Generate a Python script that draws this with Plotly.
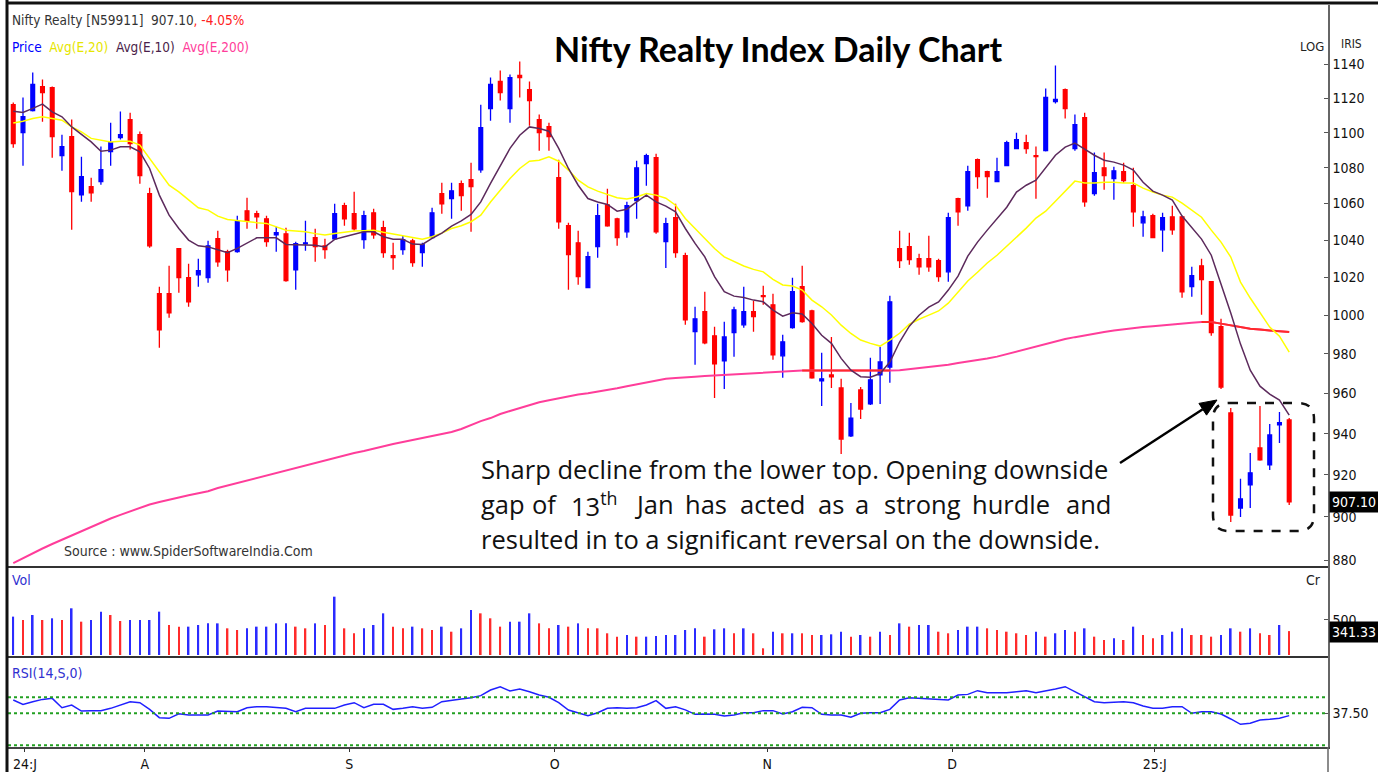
import math
import plotly.graph_objects as go

W, H = 1378, 772

# ---------------- data ----------------
month_labels = ["24:J", "A", "S", "O", "N", "D", "25:J"]
month_pos = [1.2, 13.5, 34.5, 55.6, 77.4, 96.4, 117.2]

opens = [1116.2, 1100.0, 1112.7, 1126.8, 1126.2, 1086.9, 1097.7, 1064.9, 1069.4, 1072.2,
         1089.2, 1097.1, 1107.5, 1098.8, 1065.5, 1011.3, 1011.3, 1035.3, 1019.8, 1021.3,
         1019.8, 1040.7, 1033.7, 1033.7, 1056.0, 1054.4, 1051.6, 1042.9, 1043.4, 1024.0,
         1038.0, 1041.3, 1036.9, 1040.7, 1058.8, 1054.4, 1040.2, 1054.9, 1046.7, 1031.6,
         1034.8, 1039.6, 1033.2, 1041.3, 1065.5, 1062.7, 1071.1, 1073.3, 1078.9, 1113.9,
         1129.8, 1113.9, 1133.3, 1125.0, 1107.5, 1103.4, 1074.4, 1047.8, 1038.5, 1014.5,
         1036.4, 1059.3, 1051.6, 1044.5, 1061.6, 1082.3, 1085.7, 1039.1, 1052.2, 1031.6,
         991.4, 1001.8, 989.3, 976.4, 990.9, 995.0, 1001.8, 1010.2, 1005.4, 979.0,
         993.5, 1015.0, 1002.3, 966.3, 969.3, 962.7, 938.9, 961.7, 954.7, 969.3,
         973.3, 1035.3, 1036.4, 1029.9, 1029.9, 1028.9, 1022.9, 1062.7, 1058.8, 1084.6,
         1077.8, 1072.2, 1081.2, 1090.9, 1094.3, 1086.9, 1089.7, 1118.0, 1125.0, 1090.9,
         1108.7, 1065.5, 1080.0, 1073.9, 1077.8, 1069.9, 1049.4, 1053.3, 1045.6, 1052.7,
         1052.7, 1015.0, 1026.1, 1017.6, 994.0, 950.2, 904.2, 915.2, 933.0, 924.8,
         944.3, 946.8]
highs = [1117.4, 1120.4, 1135.1, 1130.9, 1126.8, 1098.8, 1107.5, 1086.3, 1074.4, 1092.0,
         1105.7, 1112.2, 1111.5, 1100.6, 1068.8, 1015.0, 1026.1, 1035.3, 1027.2, 1029.9,
         1039.6, 1045.1, 1034.8, 1053.3, 1063.2, 1056.0, 1053.3, 1047.2, 1046.7, 1039.1,
         1050.5, 1046.1, 1040.7, 1059.9, 1060.4, 1066.6, 1056.0, 1057.1, 1050.5, 1038.5,
         1042.3, 1040.7, 1038.5, 1057.7, 1071.6, 1071.6, 1072.8, 1082.9, 1116.2, 1132.1,
         1136.3, 1133.9, 1141.6, 1129.8, 1110.4, 1105.7, 1084.6, 1049.4, 1045.1, 1033.7,
         1059.9, 1068.3, 1052.2, 1061.0, 1084.0, 1088.0, 1088.0, 1052.2, 1059.9, 1033.2,
         1004.4, 1012.3, 994.0, 996.6, 1004.4, 1015.0, 1007.5, 1015.5, 1011.3, 989.8,
         1019.8, 1026.1, 1002.8, 980.6, 988.7, 967.3, 955.2, 963.2, 978.0, 983.6,
         1010.2, 1045.1, 1044.0, 1032.6, 1042.3, 1029.9, 1054.9, 1063.2, 1081.2, 1085.2,
         1078.3, 1085.7, 1095.4, 1100.0, 1098.8, 1092.0, 1125.6, 1139.3, 1125.6, 1110.4,
         1111.5, 1088.6, 1088.6, 1080.6, 1082.9, 1080.0, 1056.0, 1054.4, 1054.9, 1058.8,
         1053.3, 1025.6, 1029.9, 1017.9, 998.1, 952.7, 918.1, 930.6, 953.7, 944.8,
         950.7, 947.7]
lows = [1091.4, 1081.2, 1112.2, 1106.3, 1085.7, 1078.3, 1045.6, 1061.0, 1061.0, 1070.5,
        1081.2, 1096.0, 1090.3, 1071.1, 1035.9, 983.1, 998.6, 1011.8, 1004.4, 1015.0,
        1017.1, 1025.6, 1017.6, 1033.2, 1046.1, 1046.1, 1036.4, 1033.7, 1017.6, 1013.4,
        1034.2, 1028.3, 1029.9, 1040.2, 1047.8, 1045.1, 1035.3, 1040.7, 1030.5, 1024.0,
        1032.1, 1025.6, 1025.6, 1040.7, 1054.4, 1051.6, 1056.0, 1044.5, 1077.2, 1106.9,
        1118.6, 1105.7, 1120.4, 1104.0, 1089.7, 1089.7, 1046.1, 1013.4, 1016.0, 1014.5,
        1030.5, 1047.2, 1036.9, 1041.3, 1051.6, 1069.9, 1043.4, 1025.0, 1030.5, 995.0,
        974.4, 985.0, 957.7, 962.2, 978.5, 993.5, 991.4, 1005.4, 977.0, 967.8,
        993.0, 996.0, 967.3, 953.7, 962.7, 930.1, 938.4, 947.2, 954.2, 954.7,
        965.3, 1025.0, 1026.7, 1021.3, 1022.9, 1017.6, 1017.6, 1047.8, 1056.0, 1068.3,
        1063.2, 1072.0, 1081.0, 1090.5, 1088.0, 1062.7, 1089.2, 1116.8, 1108.1, 1089.7,
        1058.2, 1064.4, 1067.7, 1062.1, 1071.6, 1047.2, 1041.8, 1041.0, 1033.7, 1042.9,
        1009.1, 1009.7, 1000.2, 989.3, 962.2, 897.6, 900.0, 904.2, 926.8, 922.4,
        935.5, 905.7]
closes = [1093.7, 1109.2, 1128.0, 1123.2, 1097.7, 1092.0, 1066.6, 1075.0, 1066.0, 1078.9,
          1094.3, 1098.8, 1093.7, 1075.6, 1036.9, 992.4, 1001.2, 1019.8, 1007.0, 1023.5,
          1036.9, 1028.3, 1024.0, 1050.0, 1050.5, 1052.7, 1039.1, 1044.0, 1018.2, 1038.0,
          1038.5, 1036.4, 1034.8, 1054.4, 1051.6, 1046.1, 1053.3, 1042.9, 1033.2, 1030.5,
          1040.2, 1027.8, 1037.5, 1054.9, 1059.9, 1067.1, 1064.4, 1069.4, 1102.9, 1128.0,
          1123.2, 1132.1, 1132.1, 1118.6, 1100.0, 1097.7, 1050.0, 1032.1, 1020.3, 1031.0,
          1053.3, 1047.8, 1041.3, 1058.8, 1080.0, 1086.9, 1044.5, 1048.9, 1033.2, 997.6,
          998.1, 985.6, 974.9, 988.7, 1002.8, 1001.8, 999.2, 1009.7, 979.5, 986.2,
          1012.3, 996.6, 967.8, 967.3, 968.3, 937.4, 947.7, 952.2, 966.8, 975.9,
          1007.0, 1028.9, 1029.4, 1025.6, 1025.6, 1020.3, 1052.2, 1055.5, 1077.8, 1075.0,
          1075.0, 1077.8, 1094.3, 1096.0, 1090.9, 1086.3, 1120.4, 1119.2, 1113.9, 1104.6,
          1061.0, 1077.2, 1075.6, 1078.3, 1072.8, 1055.5, 1052.7, 1041.3, 1052.2, 1045.6,
          1012.3, 1020.8, 1018.7, 990.9, 963.2, 900.9, 908.5, 921.0, 927.2, 939.4,
          945.4, 907.1]

ema10 = [1112.4, 1111.7, 1114.0, 1116.5, 1112.0, 1109.1, 1103.3, 1099.0, 1094.7, 1089.4,
         1090.0, 1091.9, 1091.9, 1089.0, 1079.6, 1064.7, 1053.6, 1046.3, 1040.0, 1036.9,
         1036.3, 1034.8, 1033.2, 1035.5, 1038.2, 1041.2, 1041.2, 1041.2, 1037.6, 1037.6,
         1037.6, 1037.2, 1036.3, 1040.4, 1041.8, 1043.1, 1044.5, 1044.5, 1041.8, 1040.4,
         1040.4, 1037.8, 1037.6, 1040.9, 1043.8, 1047.6, 1050.5, 1054.0, 1060.9, 1071.2,
         1081.5, 1091.0, 1098.5, 1103.3, 1102.4, 1100.8, 1091.0, 1079.6, 1070.2, 1062.8,
         1060.9, 1059.5, 1055.8, 1056.9, 1060.9, 1064.7, 1060.9, 1058.6, 1055.4, 1046.3,
         1038.2, 1030.9, 1020.3, 1012.3, 1010.0, 1009.3, 1007.9, 1007.0, 1002.7, 999.5,
         1001.3, 1000.6, 995.7, 989.6, 985.4, 977.7, 971.7, 968.4, 968.1, 970.0,
         975.8, 986.1, 994.3, 1000.0, 1004.2, 1006.9, 1013.2, 1020.6, 1031.3, 1038.9,
         1045.4, 1052.0, 1058.0, 1066.4, 1070.2, 1073.0, 1079.8, 1087.1, 1091.7, 1094.0,
         1090.6, 1087.1, 1084.3, 1083.2, 1081.5, 1078.7, 1071.9, 1066.9, 1064.7, 1061.9,
         1053.1, 1047.0, 1040.5, 1031.8, 1016.4, 1001.1, 985.0, 971.7, 963.6, 959.6,
         956.6, 949.2]
ema20 = [1105.5, 1106.6, 1108.2, 1109.1, 1108.2, 1107.2, 1103.3, 1100.4, 1096.7, 1095.7,
         1094.7, 1095.1, 1095.1, 1092.9, 1085.3, 1077.7, 1070.2, 1066.5, 1061.9, 1057.7,
         1056.4, 1053.1, 1051.2, 1050.5, 1050.1, 1049.5, 1049.1, 1047.3, 1045.4, 1044.9,
         1044.5, 1043.5, 1042.7, 1043.6, 1044.3, 1044.9, 1045.1, 1045.4, 1044.3, 1043.3,
         1042.4, 1041.4, 1040.4, 1041.8, 1043.8, 1046.3, 1047.8, 1050.0, 1053.6, 1060.9,
         1067.5, 1074.0, 1079.6, 1083.7, 1084.3, 1086.2, 1083.7, 1078.7, 1073.0, 1069.3,
         1066.9, 1065.1, 1063.2, 1062.5, 1063.7, 1065.6, 1064.7, 1063.0, 1059.1, 1051.8,
         1046.3, 1040.9, 1035.4, 1030.9, 1028.3, 1026.0, 1024.2, 1022.9, 1018.9, 1015.9,
         1015.3, 1013.2, 1007.9, 1004.4, 1000.1, 994.8, 990.5, 987.1, 985.4, 984.0,
         987.1, 990.6, 995.3, 997.9, 1000.0, 1002.2, 1006.3, 1012.1, 1018.0, 1022.7,
         1027.6, 1031.8, 1036.7, 1041.1, 1046.5, 1052.0, 1055.8, 1061.3, 1066.9, 1072.5,
         1071.4, 1071.4, 1071.9, 1071.9, 1071.4, 1071.4, 1068.6, 1066.4, 1064.7, 1063.6,
         1060.3, 1056.4, 1052.5, 1045.4, 1038.9, 1030.8, 1017.4, 1009.0, 1001.1, 993.8,
         989.1, 980.9]
ema200 = [878.6, 880.9, 883.2, 885.3, 887.4, 889.4, 891.3, 893.4, 895.3, 897.4,
          899.3, 901.0, 902.6, 904.3, 905.9, 907.1, 908.0, 909.2, 910.3, 911.3,
          912.2, 913.7, 914.9, 916.1, 917.3, 918.5, 919.7, 920.9, 922.1, 923.3,
          924.5, 925.8, 927.0, 928.4, 929.6, 930.6, 931.5, 932.7, 934.0, 935.0,
          935.9, 936.9, 937.9, 938.9, 939.8, 940.8, 942.3, 944.3, 946.2, 947.7,
          949.7, 951.2, 952.7, 954.1, 955.6, 956.6, 957.6, 958.6, 959.4, 960.1,
          960.9, 961.6, 962.6, 963.6, 964.6, 965.7, 966.7, 967.4, 967.7, 968.2,
          968.4, 968.7, 969.0, 969.2, 969.5, 969.7, 970.0, 970.2, 970.7, 971.0,
          971.2, 971.5, 971.5, 971.5, 971.5, 971.5, 971.2, 971.2, 971.2, 971.2,
          971.5, 971.7, 972.2, 972.7, 973.2, 973.8, 974.5, 975.3, 976.0, 976.8,
          977.6, 978.6, 979.9, 980.9, 982.2, 983.5, 985.0, 986.3, 987.6, 988.6,
          989.6, 990.4, 991.2, 992.0, 992.7, 993.3, 993.8, 994.3, 994.8, 995.3,
          995.9, 996.1, 996.4, 996.4, 995.6, 994.6, 993.8, 993.0, 992.5, 992.0,
          991.4, 991.2]
ema200_red_spans = [(81, 90), (122, 131)]

volume = [548, 500, 571, 500, 524, 500, 667, 476, 500, 619,
          571, 486, 500, 500, 500, 619, 429, 405, 405, 429,
          452, 452, 381, 357, 381, 405, 405, 452, 452, 405,
          381, 452, 429, 833, 381, 310, 381, 429, 595, 405,
          381, 405, 381, 357, 405, 333, 381, 643, 595, 524,
          405, 476, 476, 595, 452, 381, 429, 405, 452, 381,
          381, 310, 262, 286, 262, 262, 271, 286, 286, 357,
          381, 262, 367, 381, 310, 381, 310, 95, 333, 310,
          310, 310, 286, 286, 295, 333, 262, 286, 262, 333,
          286, 452, 405, 429, 429, 333, 310, 357, 405, 405,
          381, 357, 333, 310, 286, 333, 262, 310, 357, 333,
          381, 262, 214, 238, 214, 405, 286, 238, 286, 333,
          381, 286, 286, 262, 286, 381, 333, 381, 310, 286,
          429, 341.33]
volume_dir = list("brbrbrbrbb" "rrbbbbrrbb" "bbrrbbbbbr" "rbrbrrbbbr" "rbrrbrbbrr"
                  "rbbbrrbrbr" "rrrbrbbbbb" "brbbrbrrbr" "brrbbbrbrb" "rbrbbrrbbb"
                  "rrrrrbrbbr" "brrbrbrrbb" "brrrbbrbrr" "br")

rsi = [47.9, 44.5, 46.6, 48.4, 49.2, 41.9, 44.0, 39.3, 39.6, 39.6,
       41.4, 44.0, 46.6, 45.8, 40.6, 34.1, 33.6, 37.2, 36.2, 36.2,
       36.2, 39.3, 39.3, 38.8, 41.9, 42.7, 42.7, 41.9, 41.4, 38.8,
       41.4, 41.4, 41.4, 41.4, 44.0, 45.8, 41.9, 44.5, 44.5, 40.6,
       41.4, 42.7, 41.4, 42.2, 46.6, 47.9, 48.7, 49.7, 51.3, 55.7,
       58.3, 54.9, 56.5, 54.4, 51.8, 50.0, 45.8, 40.1, 38.0, 35.7,
       38.0, 41.4, 41.9, 41.4, 41.9, 44.0, 47.4, 41.4, 42.7, 40.2,
       36.7, 37.0, 36.7, 35.4, 36.2, 38.0, 38.0, 39.6, 39.6, 37.0,
       38.8, 42.2, 41.9, 36.7, 36.2, 36.2, 34.4, 37.5, 38.0, 38.0,
       40.6, 47.9, 49.7, 49.2, 48.4, 47.9, 47.9, 51.8, 52.3, 55.2,
       53.6, 53.6, 53.6, 54.4, 55.2, 53.6, 54.9, 56.5, 58.3, 54.4,
       50.5, 46.6, 45.8, 46.1, 46.6, 45.8, 43.2, 41.4, 41.4, 42.7,
       42.7, 37.5, 38.8, 38.8, 37.0, 33.1, 28.9, 29.7, 32.3, 32.8,
       33.6, 35.7]
rsi_levels = [50, 37.5, 12.5]
price_ticks = [880, 900, 920, 940, 960, 980, 1000, 1020, 1040, 1060, 1080, 1100, 1120, 1140]

# ---------------- helpers ----------------
def px(x):
    return x / W


def py(y):
    return 1 - y / H


idx = list(range(len(closes)))
NARROW = "Liberation Sans Narrow, DejaVu Sans Condensed, Roboto Condensed, Arial Narrow, sans-serif"
BODY = "Open Sans, Noto Sans, sans-serif"

fig = go.Figure()

fig.add_trace(go.Scatter(x=idx, y=ema200, mode="lines", line=dict(color="#ff3d9a", width=2),
                         hoverinfo="skip", yaxis="y"))
for a, b in ema200_red_spans:
    fig.add_trace(go.Scatter(x=idx[a:b + 1], y=ema200[a:b + 1], mode="lines",
                             line=dict(color="#ff2a2a", width=2), hoverinfo="skip", yaxis="y"))
fig.add_trace(go.Scatter(x=idx, y=ema20, mode="lines", line=dict(color="#ffff00", width=1.5),
                         hoverinfo="skip", yaxis="y"))
fig.add_trace(go.Scatter(x=idx, y=ema10, mode="lines", line=dict(color="#5c2a5c", width=1.5),
                         hoverinfo="skip", yaxis="y"))

fig.add_trace(go.Candlestick(
    x=idx, open=opens, high=highs, low=lows, close=closes, yaxis="y",
    increasing=dict(line=dict(color="#0000ff", width=1.3), fillcolor="#0000ff"),
    decreasing=dict(line=dict(color="#ff0000", width=1.3), fillcolor="#ff0000"),
    whiskerwidth=0, hoverinfo="skip"))

vol_colors = ["#2b2bff" if d == "b" else "#ff2b2b" for d in volume_dir]
fig.add_trace(go.Bar(x=idx, y=volume, marker=dict(color=vol_colors, line=dict(width=0)),
                     width=0.17, yaxis="y2", hoverinfo="skip"))

fig.add_trace(go.Scatter(x=idx, y=rsi, mode="lines", line=dict(color="#2020ff", width=1.5),
                         yaxis="y3", hoverinfo="skip"))

x_lo = -0.54
x_hi = x_lo + (1328 - 8) / 9.74

fig.update_layout(
    width=W, height=H,
    margin=dict(l=0, r=0, t=0, b=0),
    paper_bgcolor="white", plot_bgcolor="white",
    showlegend=False,
    boxgap=0.45,
    xaxis=dict(domain=[px(8), px(1328)], range=[x_lo, x_hi], anchor="y3",
               tickvals=month_pos, ticktext=month_labels, ticks="outside", ticklen=3,
               tickcolor="#333", showline=True, linecolor="#444", linewidth=2,
               showgrid=False, zeroline=False, rangeslider=dict(visible=False),
               tickfont=dict(family=NARROW, size=14, color="#111")),
    yaxis=dict(domain=[py(567), py(5)], type="log",
               range=[math.log10(876.8), math.log10(1175.8)], side="right", anchor="x",
               tickvals=price_ticks, ticks="inside", ticklen=4, tickcolor="#555",
               showline=True, linecolor="#666", linewidth=1.5, showgrid=False, zeroline=False,
               tickfont=dict(family=NARROW, size=14, color="#111")),
    yaxis2=dict(domain=[py(657), py(567)], range=[-28.6, 1257], side="right", anchor="x",
                tickvals=[500], ticks="inside", ticklen=4, tickcolor="#555",
                showline=True, linecolor="#666", linewidth=1.5, showgrid=False, zeroline=False,
                tickfont=dict(family=NARROW, size=14, color="#111")),
    yaxis3=dict(domain=[py(747), py(657)], range=[11.2, 81.5], side="right", anchor="x",
                tickvals=[37.5], ticktext=["37.50"], ticks="inside", ticklen=4, tickcolor="#555",
                showline=True, linecolor="#666", linewidth=1.5, showgrid=False, zeroline=False,
                tickfont=dict(family=NARROW, size=14, color="#111")),
)

shapes = []
for lv in rsi_levels:
    shapes.append(dict(type="line", xref="x domain", x0=0, x1=1, yref="y3", y0=lv, y1=lv,
                       line=dict(color="#22a022", width=2, dash="dot")))
for yy in (567, 657):
    shapes.append(dict(type="line", xref="paper", yref="paper", x0=px(8), x1=px(1328),
                       y0=py(yy), y1=py(yy), line=dict(color="#333", width=2)))
shapes.append(dict(type="line", xref="paper", yref="paper", x0=px(7), x1=px(7), y0=0, y1=1,
                   line=dict(color="#111", width=3)))
shapes.append(dict(type="line", xref="paper", yref="paper", x0=px(7), x1=1, y0=py(3), y1=py(3),
                   line=dict(color="#111", width=3)))
shapes.append(dict(type="line", xref="paper", yref="paper", x0=px(1328), x1=px(1328),
                   y0=py(747), y1=0, line=dict(color="#666", width=1.5)))


def rrect(x0, y0, x1, y1, r):
    pts = [("M", x0 + r, y0), ("L", x1 - r, y0), ("Q", x1, y0, x1, y0 + r), ("L", x1, y1 - r),
           ("Q", x1, y1, x1 - r, y1), ("L", x0 + r, y1), ("Q", x0, y1, x0, y1 - r),
           ("L", x0, y0 + r), ("Q", x0, y0, x0 + r, y0)]
    out = []
    for p in pts:
        coords = p[1:]
        s = [f"{px(coords[k]):.5f},{py(coords[k + 1]):.5f}" for k in range(0, len(coords), 2)]
        out.append(p[0] + " " + " ".join(s))
    return " ".join(out) + " Z"


shapes.append(dict(type="path", xref="paper", yref="paper", path=rrect(1213, 403, 1314, 531, 16),
                   line=dict(color="#111", width=2.5, dash="dash")))
tip = (1217, 400)
tail = (1120, 463)
dx, dy = tip[0] - tail[0], tip[1] - tail[1]
L = math.hypot(dx, dy)
ux, uy = dx / L, dy / L
hl, hw = 17, 7
bx, by = tip[0] - hl * ux, tip[1] - hl * uy
shapes.append(dict(type="line", xref="paper", yref="paper", x0=px(tail[0]), y0=py(tail[1]),
                   x1=px(bx), y1=py(by), line=dict(color="#000", width=2.5)))
p1 = (bx - hw * uy, by + hw * ux)
p2 = (bx + hw * uy, by - hw * ux)
shapes.append(dict(type="path", xref="paper", yref="paper", fillcolor="#000",
                   line=dict(color="#000", width=1),
                   path=f"M {px(tip[0]):.5f},{py(tip[1]):.5f} L {px(p1[0]):.5f},{py(p1[1]):.5f} "
                        f"L {px(p2[0]):.5f},{py(p2[1]):.5f} Z"))
fig.update_layout(shapes=shapes)

anns = []


def note(x, y, text, size=14, color="#111", family=NARROW, xanchor="left", bg=None):
    d = dict(xref="paper", yref="paper", x=px(x), y=py(y), text=text, showarrow=False,
             xanchor=xanchor, yanchor="middle", font=dict(family=family, size=size, color=color))
    if bg:
        d.update(bgcolor=bg, borderpad=2)
    anns.append(d)


note(10, 20, "Nifty Realty [N59911]&nbsp;&nbsp;907.10<span style='color:#ff2020'>, -4.05%</span>",
     size=13.5, color="#333")
note(10, 47, "<span style='color:#0000ff'>Price</span>&nbsp;&nbsp;"
             "<span style='color:#e6e600'>Avg(E,20)</span>&nbsp;&nbsp;"
             "<span style='color:#4b1f4b'>Avg(E,10)</span>&nbsp;&nbsp;"
             "<span style='color:#ff3d9a'>Avg(E,200)</span>", size=13.5)
note(778, 48, "<b>Nifty Realty Index Daily Chart</b>", size=34, color="#000",
     family="Lato, Open Sans, sans-serif", xanchor="center")
note(1298, 47, "LOG", size=13, color="#222")
note(1339, 44, "IRIS", size=12, color="#222")
note(62, 551, "Source : www.SpiderSoftwareIndia.Com", size=14, color="#333")
note(10, 580, "Vol", size=14, color="#3030d0")
note(1304, 580, "Cr", size=14, color="#222")
note(10, 673, "RSI(14,S,0)", size=14, color="#3030d0")
note(1329, 502, "907.10", size=14, color="#fff", bg="#000")
note(1329, 632, "341.33", size=14, color="#fff", bg="#000")

TXT = 25.5
note(479, 469, "Sharp decline from the lower top. Opening downside", size=TXT, color="#111", family=BODY)
line2 = [("gap", 479), ("of", 530), ("13<sup>th</sup>", 569), ("Jan", 632), ("has", 683),
         ("acted", 738), ("as", 816), ("a", 853), ("strong", 882), ("hurdle", 970), ("and", 1064)]
for w, xx in line2:
    note(xx, 504, w, size=TXT, color="#111", family=BODY)
note(479, 539, "resulted in to a significant reversal on the downside.", size=TXT, color="#111", family=BODY)

fig.update_layout(annotations=anns)
fig.write_html("out.html", config={"displayModeBar": False},
               post_script="document.body.style.margin='0';document.body.style.overflow='hidden';")
